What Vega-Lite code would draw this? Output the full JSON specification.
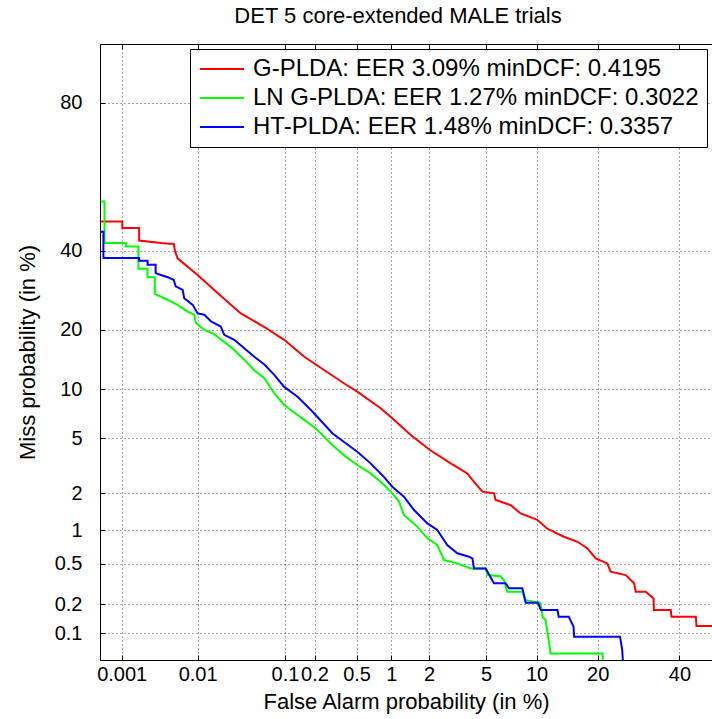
{
  "$schema": "https://vega.github.io/schema/vega-lite/v6.json",
  "width": 612,
  "height": 616,
  "autosize": {"type": "none"},
  "padding": {"left": 100, "top": 44, "right": 0, "bottom": 59},
  "background": "white",
  "title": {"text": "DET 5 core-extended MALE trials", "fontSize": 22, "fontWeight": "normal", "font": "Liberation Sans", "color": "black", "offset": 16, "anchor": "middle", "dx": -8},
  "data": {"values": [
    {"system": "G-PLDA: EER 3.09% minDCF: 0.4195", "fa": 0.0005, "miss": 48.5},
    {"system": "G-PLDA: EER 3.09% minDCF: 0.4195", "fa": 0.00102, "miss": 48.5},
    {"system": "G-PLDA: EER 3.09% minDCF: 0.4195", "fa": 0.00102, "miss": 46.6},
    {"system": "G-PLDA: EER 3.09% minDCF: 0.4195", "fa": 0.00174, "miss": 46.6},
    {"system": "G-PLDA: EER 3.09% minDCF: 0.4195", "fa": 0.00174, "miss": 42.9},
    {"system": "G-PLDA: EER 3.09% minDCF: 0.4195", "fa": 0.0034, "miss": 42.2},
    {"system": "G-PLDA: EER 3.09% minDCF: 0.4195", "fa": 0.0044, "miss": 42.0},
    {"system": "G-PLDA: EER 3.09% minDCF: 0.4195", "fa": 0.0050, "miss": 42.0},
    {"system": "G-PLDA: EER 3.09% minDCF: 0.4195", "fa": 0.0052, "miss": 39.8},
    {"system": "G-PLDA: EER 3.09% minDCF: 0.4195", "fa": 0.0056, "miss": 37.8},
    {"system": "G-PLDA: EER 3.09% minDCF: 0.4195", "fa": 0.0100, "miss": 33.2},
    {"system": "G-PLDA: EER 3.09% minDCF: 0.4195", "fa": 0.0175, "miss": 28.5},
    {"system": "G-PLDA: EER 3.09% minDCF: 0.4195", "fa": 0.0327, "miss": 23.6},
    {"system": "G-PLDA: EER 3.09% minDCF: 0.4195", "fa": 0.060, "miss": 20.6},
    {"system": "G-PLDA: EER 3.09% minDCF: 0.4195", "fa": 0.098, "miss": 18.0},
    {"system": "G-PLDA: EER 3.09% minDCF: 0.4195", "fa": 0.158, "miss": 14.9},
    {"system": "G-PLDA: EER 3.09% minDCF: 0.4195", "fa": 0.206, "miss": 13.6},
    {"system": "G-PLDA: EER 3.09% minDCF: 0.4195", "fa": 0.383, "miss": 10.8},
    {"system": "G-PLDA: EER 3.09% minDCF: 0.4195", "fa": 0.508, "miss": 9.68},
    {"system": "G-PLDA: EER 3.09% minDCF: 0.4195", "fa": 0.814, "miss": 7.74},
    {"system": "G-PLDA: EER 3.09% minDCF: 0.4195", "fa": 1.02, "miss": 6.72},
    {"system": "G-PLDA: EER 3.09% minDCF: 0.4195", "fa": 1.44, "miss": 5.25},
    {"system": "G-PLDA: EER 3.09% minDCF: 0.4195", "fa": 2.03, "miss": 4.16},
    {"system": "G-PLDA: EER 3.09% minDCF: 0.4195", "fa": 2.88, "miss": 3.35},
    {"system": "G-PLDA: EER 3.09% minDCF: 0.4195", "fa": 3.76, "miss": 2.83},
    {"system": "G-PLDA: EER 3.09% minDCF: 0.4195", "fa": 4.17, "miss": 2.45},
    {"system": "G-PLDA: EER 3.09% minDCF: 0.4195", "fa": 4.74, "miss": 2.06},
    {"system": "G-PLDA: EER 3.09% minDCF: 0.4195", "fa": 5.62, "miss": 2.0},
    {"system": "G-PLDA: EER 3.09% minDCF: 0.4195", "fa": 5.76, "miss": 1.77},
    {"system": "G-PLDA: EER 3.09% minDCF: 0.4195", "fa": 7.12, "miss": 1.61},
    {"system": "G-PLDA: EER 3.09% minDCF: 0.4195", "fa": 8.14, "miss": 1.38},
    {"system": "G-PLDA: EER 3.09% minDCF: 0.4195", "fa": 10.1, "miss": 1.22},
    {"system": "G-PLDA: EER 3.09% minDCF: 0.4195", "fa": 11.4, "miss": 1.03},
    {"system": "G-PLDA: EER 3.09% minDCF: 0.4195", "fa": 13.9, "miss": 0.875},
    {"system": "G-PLDA: EER 3.09% minDCF: 0.4195", "fa": 16.2, "miss": 0.79},
    {"system": "G-PLDA: EER 3.09% minDCF: 0.4195", "fa": 18.0, "miss": 0.69},
    {"system": "G-PLDA: EER 3.09% minDCF: 0.4195", "fa": 19.6, "miss": 0.56},
    {"system": "G-PLDA: EER 3.09% minDCF: 0.4195", "fa": 22.0, "miss": 0.503},
    {"system": "G-PLDA: EER 3.09% minDCF: 0.4195", "fa": 22.7, "miss": 0.42},
    {"system": "G-PLDA: EER 3.09% minDCF: 0.4195", "fa": 26.1, "miss": 0.39},
    {"system": "G-PLDA: EER 3.09% minDCF: 0.4195", "fa": 28.1, "miss": 0.325},
    {"system": "G-PLDA: EER 3.09% minDCF: 0.4195", "fa": 28.5, "miss": 0.268},
    {"system": "G-PLDA: EER 3.09% minDCF: 0.4195", "fa": 31.0, "miss": 0.268},
    {"system": "G-PLDA: EER 3.09% minDCF: 0.4195", "fa": 33.0, "miss": 0.23},
    {"system": "G-PLDA: EER 3.09% minDCF: 0.4195", "fa": 33.1, "miss": 0.175},
    {"system": "G-PLDA: EER 3.09% minDCF: 0.4195", "fa": 37.6, "miss": 0.175},
    {"system": "G-PLDA: EER 3.09% minDCF: 0.4195", "fa": 37.8, "miss": 0.149},
    {"system": "G-PLDA: EER 3.09% minDCF: 0.4195", "fa": 44.6, "miss": 0.149},
    {"system": "G-PLDA: EER 3.09% minDCF: 0.4195", "fa": 44.8, "miss": 0.119},
    {"system": "G-PLDA: EER 3.09% minDCF: 0.4195", "fa": 50.0, "miss": 0.119},

    {"system": "LN G-PLDA: EER 1.27% minDCF: 0.3022", "fa": 0.0005, "miss": 54.4},
    {"system": "LN G-PLDA: EER 1.27% minDCF: 0.3022", "fa": 0.00057, "miss": 54.4},
    {"system": "LN G-PLDA: EER 1.27% minDCF: 0.3022", "fa": 0.00057, "miss": 42.2},
    {"system": "LN G-PLDA: EER 1.27% minDCF: 0.3022", "fa": 0.00114, "miss": 42.2},
    {"system": "LN G-PLDA: EER 1.27% minDCF: 0.3022", "fa": 0.00114, "miss": 41.2},
    {"system": "LN G-PLDA: EER 1.27% minDCF: 0.3022", "fa": 0.0017, "miss": 41.2},
    {"system": "LN G-PLDA: EER 1.27% minDCF: 0.3022", "fa": 0.0017, "miss": 34.9},
    {"system": "LN G-PLDA: EER 1.27% minDCF: 0.3022", "fa": 0.00226, "miss": 34.9},
    {"system": "LN G-PLDA: EER 1.27% minDCF: 0.3022", "fa": 0.00226, "miss": 32.6},
    {"system": "LN G-PLDA: EER 1.27% minDCF: 0.3022", "fa": 0.00283, "miss": 32.6},
    {"system": "LN G-PLDA: EER 1.27% minDCF: 0.3022", "fa": 0.00283, "miss": 28.3},
    {"system": "LN G-PLDA: EER 1.27% minDCF: 0.3022", "fa": 0.00377, "miss": 27.2},
    {"system": "LN G-PLDA: EER 1.27% minDCF: 0.3022", "fa": 0.0056, "miss": 25.6},
    {"system": "LN G-PLDA: EER 1.27% minDCF: 0.3022", "fa": 0.0075, "miss": 24.0},
    {"system": "LN G-PLDA: EER 1.27% minDCF: 0.3022", "fa": 0.0091, "miss": 23.3},
    {"system": "LN G-PLDA: EER 1.27% minDCF: 0.3022", "fa": 0.0095, "miss": 21.5},
    {"system": "LN G-PLDA: EER 1.27% minDCF: 0.3022", "fa": 0.0121, "miss": 20.0},
    {"system": "LN G-PLDA: EER 1.27% minDCF: 0.3022", "fa": 0.0153, "miss": 19.3},
    {"system": "LN G-PLDA: EER 1.27% minDCF: 0.3022", "fa": 0.021, "miss": 17.6},
    {"system": "LN G-PLDA: EER 1.27% minDCF: 0.3022", "fa": 0.0275, "miss": 16.1},
    {"system": "LN G-PLDA: EER 1.27% minDCF: 0.3022", "fa": 0.0358, "miss": 14.4},
    {"system": "LN G-PLDA: EER 1.27% minDCF: 0.3022", "fa": 0.0464, "miss": 12.7},
    {"system": "LN G-PLDA: EER 1.27% minDCF: 0.3022", "fa": 0.060, "miss": 11.5},
    {"system": "LN G-PLDA: EER 1.27% minDCF: 0.3022", "fa": 0.0768, "miss": 9.48},
    {"system": "LN G-PLDA: EER 1.27% minDCF: 0.3022", "fa": 0.098, "miss": 8.1},
    {"system": "LN G-PLDA: EER 1.27% minDCF: 0.3022", "fa": 0.135, "miss": 7.04},
    {"system": "LN G-PLDA: EER 1.27% minDCF: 0.3022", "fa": 0.158, "miss": 6.56},
    {"system": "LN G-PLDA: EER 1.27% minDCF: 0.3022", "fa": 0.205, "miss": 5.8},
    {"system": "LN G-PLDA: EER 1.27% minDCF: 0.3022", "fa": 0.298, "miss": 4.5},
    {"system": "LN G-PLDA: EER 1.27% minDCF: 0.3022", "fa": 0.398, "miss": 3.74},
    {"system": "LN G-PLDA: EER 1.27% minDCF: 0.3022", "fa": 0.508, "miss": 3.26},
    {"system": "LN G-PLDA: EER 1.27% minDCF: 0.3022", "fa": 0.666, "miss": 2.83},
    {"system": "LN G-PLDA: EER 1.27% minDCF: 0.3022", "fa": 0.84, "miss": 2.39},
    {"system": "LN G-PLDA: EER 1.27% minDCF: 0.3022", "fa": 0.99, "miss": 2.06},
    {"system": "LN G-PLDA: EER 1.27% minDCF: 0.3022", "fa": 1.16, "miss": 1.72},
    {"system": "LN G-PLDA: EER 1.27% minDCF: 0.3022", "fa": 1.27, "miss": 1.34},
    {"system": "LN G-PLDA: EER 1.27% minDCF: 0.3022", "fa": 1.62, "miss": 1.07},
    {"system": "LN G-PLDA: EER 1.27% minDCF: 0.3022", "fa": 1.94, "miss": 0.847},
    {"system": "LN G-PLDA: EER 1.27% minDCF: 0.3022", "fa": 2.30, "miss": 0.74},
    {"system": "LN G-PLDA: EER 1.27% minDCF: 0.3022", "fa": 2.58, "miss": 0.54},
    {"system": "LN G-PLDA: EER 1.27% minDCF: 0.3022", "fa": 3.21, "miss": 0.503},
    {"system": "LN G-PLDA: EER 1.27% minDCF: 0.3022", "fa": 3.96, "miss": 0.451},
    {"system": "LN G-PLDA: EER 1.27% minDCF: 0.3022", "fa": 4.98, "miss": 0.451},
    {"system": "LN G-PLDA: EER 1.27% minDCF: 0.3022", "fa": 5.1, "miss": 0.39},
    {"system": "LN G-PLDA: EER 1.27% minDCF: 0.3022", "fa": 6.19, "miss": 0.38},
    {"system": "LN G-PLDA: EER 1.27% minDCF: 0.3022", "fa": 6.48, "miss": 0.349},
    {"system": "LN G-PLDA: EER 1.27% minDCF: 0.3022", "fa": 6.8, "miss": 0.268},
    {"system": "LN G-PLDA: EER 1.27% minDCF: 0.3022", "fa": 8.33, "miss": 0.268},
    {"system": "LN G-PLDA: EER 1.27% minDCF: 0.3022", "fa": 8.7, "miss": 0.221},
    {"system": "LN G-PLDA: EER 1.27% minDCF: 0.3022", "fa": 10.5, "miss": 0.208},
    {"system": "LN G-PLDA: EER 1.27% minDCF: 0.3022", "fa": 10.8, "miss": 0.149},
    {"system": "LN G-PLDA: EER 1.27% minDCF: 0.3022", "fa": 11.2, "miss": 0.137},
    {"system": "LN G-PLDA: EER 1.27% minDCF: 0.3022", "fa": 11.9, "miss": 0.0594},
    {"system": "LN G-PLDA: EER 1.27% minDCF: 0.3022", "fa": 21.0, "miss": 0.0594},
    {"system": "LN G-PLDA: EER 1.27% minDCF: 0.3022", "fa": 21.1, "miss": 0.03},

    {"system": "HT-PLDA: EER 1.48% minDCF: 0.3357", "fa": 0.0005, "miss": 45.5},
    {"system": "HT-PLDA: EER 1.48% minDCF: 0.3357", "fa": 0.00055, "miss": 45.5},
    {"system": "HT-PLDA: EER 1.48% minDCF: 0.3357", "fa": 0.00055, "miss": 37.9},
    {"system": "HT-PLDA: EER 1.48% minDCF: 0.3357", "fa": 0.00174, "miss": 37.9},
    {"system": "HT-PLDA: EER 1.48% minDCF: 0.3357", "fa": 0.00174, "miss": 37.1},
    {"system": "HT-PLDA: EER 1.48% minDCF: 0.3357", "fa": 0.00226, "miss": 37.1},
    {"system": "HT-PLDA: EER 1.48% minDCF: 0.3357", "fa": 0.00226, "miss": 36.0},
    {"system": "HT-PLDA: EER 1.48% minDCF: 0.3357", "fa": 0.0029, "miss": 36.0},
    {"system": "HT-PLDA: EER 1.48% minDCF: 0.3357", "fa": 0.0029, "miss": 33.7},
    {"system": "HT-PLDA: EER 1.48% minDCF: 0.3357", "fa": 0.0034, "miss": 33.2},
    {"system": "HT-PLDA: EER 1.48% minDCF: 0.3357", "fa": 0.0042, "miss": 32.6},
    {"system": "HT-PLDA: EER 1.48% minDCF: 0.3357", "fa": 0.0050, "miss": 31.9},
    {"system": "HT-PLDA: EER 1.48% minDCF: 0.3357", "fa": 0.0053, "miss": 30.2},
    {"system": "HT-PLDA: EER 1.48% minDCF: 0.3357", "fa": 0.0065, "miss": 29.3},
    {"system": "HT-PLDA: EER 1.48% minDCF: 0.3357", "fa": 0.0068, "miss": 27.2},
    {"system": "HT-PLDA: EER 1.48% minDCF: 0.3357", "fa": 0.0087, "miss": 25.6},
    {"system": "HT-PLDA: EER 1.48% minDCF: 0.3357", "fa": 0.0100, "miss": 23.6},
    {"system": "HT-PLDA: EER 1.48% minDCF: 0.3357", "fa": 0.0121, "miss": 23.3},
    {"system": "HT-PLDA: EER 1.48% minDCF: 0.3357", "fa": 0.0146, "miss": 21.8},
    {"system": "HT-PLDA: EER 1.48% minDCF: 0.3357", "fa": 0.0191, "miss": 20.7},
    {"system": "HT-PLDA: EER 1.48% minDCF: 0.3357", "fa": 0.021, "miss": 19.0},
    {"system": "HT-PLDA: EER 1.48% minDCF: 0.3357", "fa": 0.0275, "miss": 18.0},
    {"system": "HT-PLDA: EER 1.48% minDCF: 0.3357", "fa": 0.0358, "miss": 16.4},
    {"system": "HT-PLDA: EER 1.48% minDCF: 0.3357", "fa": 0.0464, "miss": 14.9},
    {"system": "HT-PLDA: EER 1.48% minDCF: 0.3357", "fa": 0.060, "miss": 13.6},
    {"system": "HT-PLDA: EER 1.48% minDCF: 0.3357", "fa": 0.0768, "miss": 12.0},
    {"system": "HT-PLDA: EER 1.48% minDCF: 0.3357", "fa": 0.098, "miss": 10.3},
    {"system": "HT-PLDA: EER 1.48% minDCF: 0.3357", "fa": 0.135, "miss": 9.06},
    {"system": "HT-PLDA: EER 1.48% minDCF: 0.3357", "fa": 0.184, "miss": 7.55},
    {"system": "HT-PLDA: EER 1.48% minDCF: 0.3357", "fa": 0.205, "miss": 7.04},
    {"system": "HT-PLDA: EER 1.48% minDCF: 0.3357", "fa": 0.298, "miss": 5.39},
    {"system": "HT-PLDA: EER 1.48% minDCF: 0.3357", "fa": 0.398, "miss": 4.62},
    {"system": "HT-PLDA: EER 1.48% minDCF: 0.3357", "fa": 0.508, "miss": 4.05},
    {"system": "HT-PLDA: EER 1.48% minDCF: 0.3357", "fa": 0.666, "miss": 3.35},
    {"system": "HT-PLDA: EER 1.48% minDCF: 0.3357", "fa": 0.868, "miss": 2.67},
    {"system": "HT-PLDA: EER 1.48% minDCF: 0.3357", "fa": 1.02, "miss": 2.25},
    {"system": "HT-PLDA: EER 1.48% minDCF: 0.3357", "fa": 1.27, "miss": 1.88},
    {"system": "HT-PLDA: EER 1.48% minDCF: 0.3357", "fa": 1.53, "miss": 1.47},
    {"system": "HT-PLDA: EER 1.48% minDCF: 0.3357", "fa": 1.94, "miss": 1.14},
    {"system": "HT-PLDA: EER 1.48% minDCF: 0.3357", "fa": 2.30, "miss": 1.0},
    {"system": "HT-PLDA: EER 1.48% minDCF: 0.3357", "fa": 2.72, "miss": 0.74},
    {"system": "HT-PLDA: EER 1.48% minDCF: 0.3357", "fa": 3.21, "miss": 0.623},
    {"system": "HT-PLDA: EER 1.48% minDCF: 0.3357", "fa": 3.86, "miss": 0.58},
    {"system": "HT-PLDA: EER 1.48% minDCF: 0.3357", "fa": 4.07, "miss": 0.56},
    {"system": "HT-PLDA: EER 1.48% minDCF: 0.3357", "fa": 4.17, "miss": 0.451},
    {"system": "HT-PLDA: EER 1.48% minDCF: 0.3357", "fa": 4.98, "miss": 0.451},
    {"system": "HT-PLDA: EER 1.48% minDCF: 0.3357", "fa": 5.62, "miss": 0.325},
    {"system": "HT-PLDA: EER 1.48% minDCF: 0.3357", "fa": 6.64, "miss": 0.325},
    {"system": "HT-PLDA: EER 1.48% minDCF: 0.3357", "fa": 6.95, "miss": 0.29},
    {"system": "HT-PLDA: EER 1.48% minDCF: 0.3357", "fa": 8.33, "miss": 0.29},
    {"system": "HT-PLDA: EER 1.48% minDCF: 0.3357", "fa": 8.7, "miss": 0.208},
    {"system": "HT-PLDA: EER 1.48% minDCF: 0.3357", "fa": 10.2, "miss": 0.208},
    {"system": "HT-PLDA: EER 1.48% minDCF: 0.3357", "fa": 10.55, "miss": 0.175},
    {"system": "HT-PLDA: EER 1.48% minDCF: 0.3357", "fa": 12.9, "miss": 0.175},
    {"system": "HT-PLDA: EER 1.48% minDCF: 0.3357", "fa": 13.1, "miss": 0.149},
    {"system": "HT-PLDA: EER 1.48% minDCF: 0.3357", "fa": 14.7, "miss": 0.149},
    {"system": "HT-PLDA: EER 1.48% minDCF: 0.3357", "fa": 15.5, "miss": 0.117},
    {"system": "HT-PLDA: EER 1.48% minDCF: 0.3357", "fa": 15.6, "miss": 0.091},
    {"system": "HT-PLDA: EER 1.48% minDCF: 0.3357", "fa": 24.8, "miss": 0.091},
    {"system": "HT-PLDA: EER 1.48% minDCF: 0.3357", "fa": 25.3, "miss": 0.065},
    {"system": "HT-PLDA: EER 1.48% minDCF: 0.3357", "fa": 25.7, "miss": 0.03}
  ]},
  "transform": [
    {"calculate": "quantileNormal(datum.fa / 100)", "as": "px"},
    {"calculate": "quantileNormal(datum.miss / 100)", "as": "py"}
  ],
  "layer": [
    {
      "mark": {"type": "line", "clip": true, "strokeWidth": 2},
      "encoding": {
        "x": {
          "field": "px", "type": "quantitative",
          "scale": {"domain": [-4.421, -0.0194], "nice": false, "zero": false},
          "axis": {
            "title": "False Alarm probability (in %)",
            "values": [-4.264890794, -3.719016485, -3.090232306, -2.878161739, -2.575829304, -2.326347874, -2.053748911, -1.644853627, -1.281551566, -0.841621234, -0.253347103],
            "labelExpr": "format(cumulativeNormal(datum.value) * 100, '.1~r')",
            "labelPadding": 9,
            "titlePadding": 7
          }
        },
        "y": {
          "field": "py", "type": "quantitative",
          "scale": {"domain": [-3.2905, 1.2793], "nice": false, "zero": false},
          "axis": {
            "title": "Miss probability (in %)",
            "values": [-3.090232306, -2.878161739, -2.575829304, -2.326347874, -2.053748911, -1.644853627, -1.281551566, -0.841621234, -0.253347103, 0.841621234],
            "labelExpr": "format(cumulativeNormal(datum.value) * 100, '.1~r')",
            "labelPadding": 23,
            "titlePadding": 15
          }
        },
        "color": {
          "field": "system", "type": "nominal",
          "scale": {
            "domain": ["G-PLDA: EER 3.09% minDCF: 0.4195", "LN G-PLDA: EER 1.27% minDCF: 0.3022", "HT-PLDA: EER 1.48% minDCF: 0.3357"],
            "range": ["#ff0000", "#00ff00", "#0000ff"]
          },
          "legend": {
            "title": null, "orient": "top-right", "offset": 5,
            "fillColor": "white", "strokeColor": "black", "padding": 8,
            "symbolType": "M-2.2,0H2.2", "symbolSize": 400, "symbolStrokeWidth": 2, "symbolOffset": 12,
            "labelFontSize": 24, "labelFont": "Liberation Sans", "labelColor": "black",
            "labelLimit": 1000, "rowPadding": 5, "labelOffset": 19
          }
        },
        "order": {"value": null}
      }
    },
    {
      "mark": {"type": "line", "clip": true, "opacity": 0},
      "encoding": {
        "x": {
          "field": "px", "type": "quantitative",
          "scale": {"domain": [-4.421, -0.0194], "nice": false, "zero": false},
          "axis": {
            "orient": "top", "title": null, "labels": false, "grid": false, "domain": false,
            "values": [-4.264890794, -3.719016485, -3.090232306, -2.878161739, -2.575829304, -2.326347874, -2.053748911, -1.644853627, -1.281551566, -0.841621234, -0.253347103]
          }
        },
        "y": {"field": "py", "type": "quantitative"},
        "order": {"value": null}
      }
    }
  ],
  "resolve": {"scale": {"x": "independent"}, "axis": {"x": "independent"}},
  "config": {
    "font": "Liberation Sans",
    "view": {"stroke": "#000", "strokeWidth": 1},
    "axis": {
      "grid": true, "gridColor": "#000", "gridDash": [1, 3], "gridOpacity": 0.7, "gridWidth": 1,
      "domainColor": "#000", "domainWidth": 1,
      "tickColor": "#000", "tickSize": -5, "tickWidth": 1,
      "labelFont": "Liberation Sans", "labelFontSize": 20, "labelColor": "black",
      "labelOverlap": false, "labelFlush": false, "labelBound": false,
      "titleFont": "Liberation Sans", "titleFontSize": 22, "titleFontWeight": "normal", "titleColor": "black"
    }
  }
}
